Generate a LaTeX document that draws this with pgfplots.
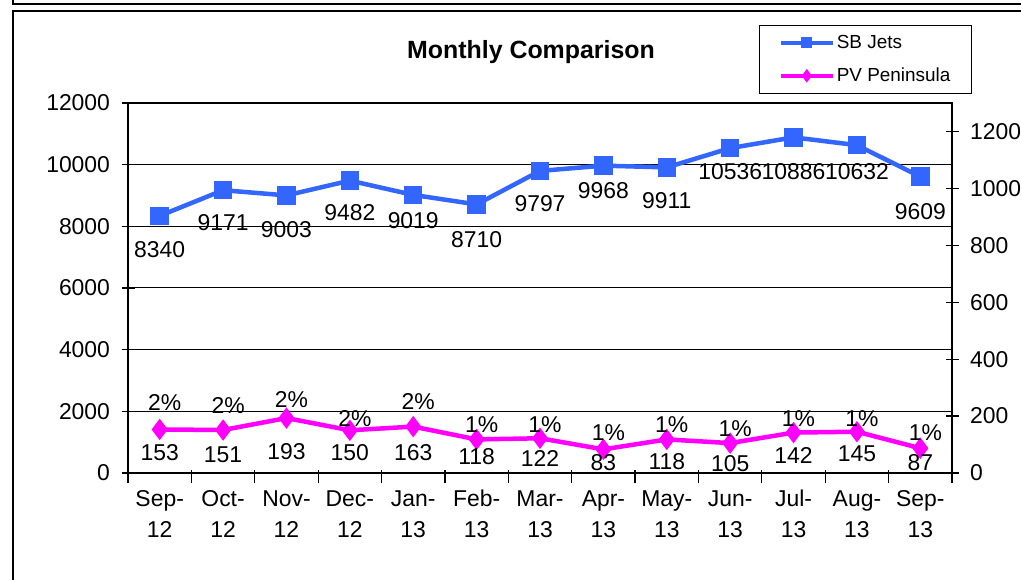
\documentclass[border=0pt]{standalone}
\usepackage{pgfplots}
\pgfplotsset{compat=1.18}
\usepackage{pgfplotstable}
\usepackage{fontspec}
\setmainfont{Liberation Sans}
\definecolor{sbblue}{RGB}{51,102,255}
\definecolor{pvmag}{RGB}{255,0,255}
\pgfplotstableread{
x sb sboff pv pvoff pct pctoff
0 8340 34 153 23 2 27
1 9171 33 151 25 2 25
2 9003 34 193 34 2 19
3 9482 32 150 22 2 12
4 9019 26 163 26 2 25
5 8710 35 118 17 1 15
6 9797 33 122 20 1 14
7 9968 25 83 13 1 17
8 9911 33 118 22 1 15
9 10536 24 105 21 1 15
10 10886 34 142 23 1 14
11 10632 27 145 22 1 13
12 9609 35 87 14 1 16
}\data
\tikzset{lbl/.style={font=\fontsize{23}{23}\selectfont, text=black, anchor=center, inner sep=0pt}}
\pgfplotsset{
  common/.style={
    at={(128bp,107bp)}, anchor=south west, scale only axis,
    width=824bp, height=370bp,
    xmin=-0.5, xmax=12.5, ymin=0,
    clip=false,
    axis line style={line width=1.2bp},
    tick style={line width=1.2bp, black},
    tick align=center, major tick length=13bp,
    /pgf/number format/assume math mode=true,
    /pgf/number format/1000 sep={},
    scaled y ticks=false,
    ticklabel style={font=\fontsize{23}{23}\selectfont},
  },
}
\begin{document}
\begin{tikzpicture}[x=1bp,y=1bp]
\useasboundingbox (0,0) rectangle (1021,580);
\draw[line width=1.5bp] (13,590) -- (13,576) -- (1040,576);
\draw[line width=1.5bp] (1040,569) -- (13,569) -- (13,-10);
\node[font=\bfseries\fontsize{25}{25}\selectfont] at (531,528) {Monthly Comparison};
\begin{axis}[common,
  ymax=12000, ytick={0,2000,...,12000}, ytick pos=left,
  yticklabel style={xshift=-8bp},
  ymajorgrids, grid style={black, line width=1bp},
  xtick={-0.5,0.5,...,12.5}, xticklabels={}, xtick pos=left,
  x tick style={yshift=-4bp},
  extra x ticks={0,...,12},
  extra x tick labels={{\strut Sep-\\12},{\strut Oct-\\12},{\strut Nov-\\12},{\strut Dec-\\12},{\strut Jan-\\13},{\strut Feb-\\13},{\strut Mar-\\13},{\strut Apr-\\13},{\strut May-\\13},{\strut Jun-\\13},{\strut Jul-\\13},{\strut Aug-\\13},{\strut Sep-\\13}},
  extra x tick style={major tick length=0pt, grid=none},
  xticklabel style={align=center, font=\fontsize{23}{31}\selectfont, anchor=north, yshift=-8bp},
]
\addplot[sbblue, line width=4.5bp, mark=square*, mark size=7bp, mark options={solid},
  point meta=explicit symbolic, nodes near coords,
  visualization depends on={\thisrow{sboff}\as\myoff},
  every node near coord/.append style={lbl, yshift=-\myoff pt}]
  table[x=x, y=sb, meta=sb]{\data};
\end{axis}
\begin{axis}[common,
  ymax=1300, ytick={0,200,...,1200},
  yticklabel style={xshift=8bp},
  axis x line=none, axis y line*=right,
  legend style={at={(0.766,1.211)}, anchor=north west, draw=black, line width=1.2bp,
    font=\fontsize{19}{19}\selectfont, inner xsep=19bp, inner ysep=8bp, row sep=14bp},
  legend cell align=left,
  legend image code/.code={\draw[mark repeat=2,mark phase=2,#1,line width=4bp,mark size=3.5bp] plot coordinates {(0bp,0bp) (26bp,0bp) (52bp,0bp)};},
]
\addlegendimage{sbblue, mark=square*, mark options={solid}}
\addlegendentry{SB Jets}
\addplot[pvmag, line width=4.5bp, mark=diamond*, mark size=7bp, mark options={solid},
  point meta=explicit symbolic, nodes near coords,
  visualization depends on={\thisrow{pvoff}\as\myoff},
  every node near coord/.append style={lbl, yshift=-\myoff pt}]
  table[x=x, y=pv, meta=pv]{\data};
\addlegendentry{PV Peninsula}
\addplot[draw=none, forget plot,
  point meta=explicit symbolic, nodes near coords={\pgfplotspointmeta\%},
  visualization depends on={\thisrow{pctoff}\as\myoff},
  every node near coord/.append style={lbl, yshift=\myoff pt, xshift=5bp}]
  table[x=x, y=pv, meta=pct]{\data};
\end{axis}
\end{tikzpicture}
\end{document}
